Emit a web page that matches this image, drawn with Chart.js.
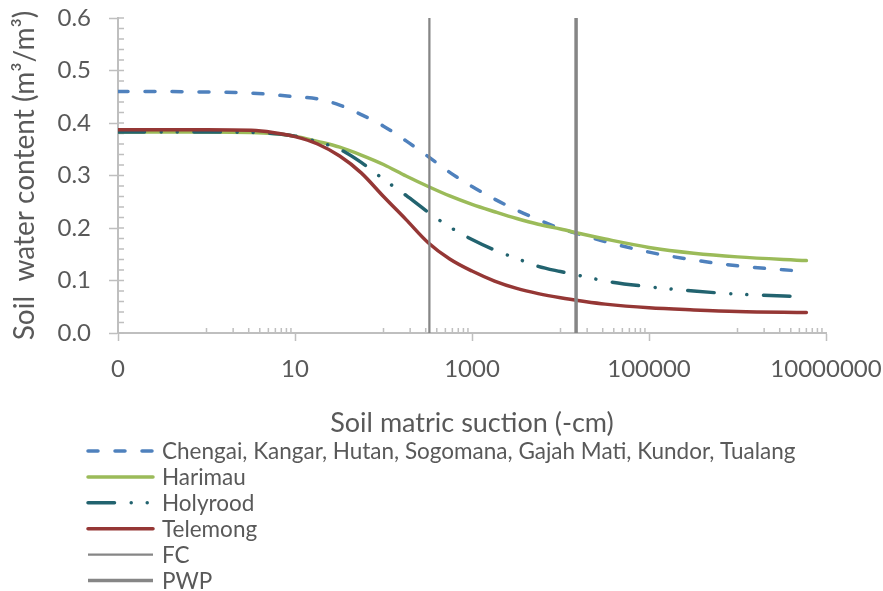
<!DOCTYPE html>
<html>
<head>
<meta charset="utf-8">
<script src="https://cdn.jsdelivr.net/npm/chart.js@4.4.1/dist/chart.umd.min.js"></script>
<style>
  html, body { margin: 0; padding: 0; background: #fff; }
</style>
</head>
<body>
<canvas id="swrc" width="883" height="591"></canvas>
<script>
// matric suction (-cm), shared by every curve
const suction = [0.1, 0.32, 1, 3.2, 5.6, 10, 18, 32, 56, 100, 180, 320, 560, 1000,
  1800, 3200, 5600, 10000, 18000, 32000, 100000, 320000, 1000000, 6000000];

// soil water content (m3/m3)
const chengai  = [0.460, 0.460, 0.459, 0.457, 0.454, 0.450, 0.446, 0.434, 0.416, 0.394, 0.366, 0.336,
  0.306, 0.279, 0.255, 0.234, 0.216, 0.199, 0.186, 0.174, 0.154, 0.139, 0.128, 0.117];
const harimau  = [0.383, 0.383, 0.383, 0.382, 0.380, 0.375, 0.365, 0.354, 0.339, 0.321, 0.299, 0.279,
  0.261, 0.245, 0.231, 0.218, 0.207, 0.198, 0.188, 0.179, 0.163, 0.152, 0.145, 0.138];
const holyrood = [0.383, 0.383, 0.383, 0.382, 0.380, 0.375, 0.364, 0.350, 0.325, 0.293, 0.262, 0.230,
  0.202, 0.178, 0.158, 0.142, 0.127, 0.117, 0.108, 0.099, 0.088, 0.080, 0.074, 0.069];
const telemong = [0.387, 0.387, 0.387, 0.386, 0.382, 0.374, 0.360, 0.337, 0.305, 0.260, 0.216, 0.172,
  0.141, 0.118, 0.099, 0.085, 0.075, 0.067, 0.0605, 0.055, 0.048, 0.044, 0.041, 0.039];

// field capacity and permanent wilting point (-cm)
const fcSuction = 330;
const pwpSuction = 15000;
const yRange = [0, 0.6];

const xTickValues = [0.1, 10, 1000, 100000, 10000000];
const xTickLabels = ['0', '10', '1000', '100000', '10000000'];

const labelColor = '#595959';
const axisColor = '#BFBFBF';
const fontFamily = 'Lato, "Open Sans", sans-serif';

const toPoints = ys => ys.map((y, i) => ({ x: suction[i], y: y }));
const vLine = x => yRange.map(y => ({ x: x, y: y }));

// no automatic room for overhanging labels, the layout padding decides
const noScalePadding = s => {
    s.paddingTop = 0;
    s.paddingBottom = 0;
    s.paddingLeft = 0;
    s.paddingRight = 0;
};

// small inside ticks like the spreadsheet axis
const minorTicks = {
    id: 'minorTicks',
    beforeDatasetsDraw(chart) {
        const { ctx, scales: { x, y } } = chart;
        ctx.save();
        ctx.strokeStyle = axisColor;
        ctx.lineWidth = 1.5;
        ctx.beginPath();
        [1, 100, 10000, 1000000].forEach(d => {
            for (let k = 1; k <= 9; k++) {
                const px = x.getPixelForValue(d * k);
                ctx.moveTo(px, y.bottom);
                ctx.lineTo(px, y.bottom - 5);
            }
        });
        for (let i = 0; i <= 30; i++) {
            const py = y.getPixelForValue(i * 0.02);
            ctx.moveTo(x.left, py);
            ctx.lineTo(x.left + 6, py);
        }
        ctx.stroke();
        ctx.restore();
    }
};

// legend with one entry per row, like the original
const stackedLegend = {
    id: 'stackedLegend',
    afterDraw(chart) {
        const ctx = chart.ctx;
        ctx.save();
        chart.data.datasets.forEach((ds, i) => {
            const yy = 451 + i * 25.9;
            ctx.strokeStyle = ds.borderColor;
            ctx.lineWidth = ds.borderWidth;
            ctx.lineCap = ds.borderCapStyle || 'butt';
            ctx.setLineDash(ds.borderDash || []);
            ctx.beginPath();
            ctx.moveTo(88, yy);
            ctx.lineTo(153, yy);
            ctx.stroke();
            ctx.setLineDash([]);
            ctx.fillStyle = labelColor;
            ctx.font = '22.5px ' + fontFamily;
            ctx.textBaseline = 'middle';
            ctx.fillText(ds.label, 162, yy + 1);
        });
        ctx.restore();
    }
};

const curve = {
    pointRadius: 0,
    fill: false,
    cubicInterpolationMode: 'monotone',
    borderJoinStyle: 'round'
};

new Chart(document.getElementById('swrc'), {
    type: 'line',
    data: {
        datasets: [
            Object.assign({}, curve, {
                label: 'Chengai, Kangar, Hutan, Sogomana, Gajah Mati, Kundor, Tualang',
                data: toPoints(chengai),
                borderColor: '#4F81BD',
                borderWidth: 3.5,
                borderDash: [10, 17],
                borderCapStyle: 'round',
                order: 6
            }),
            Object.assign({}, curve, {
                label: 'Harimau',
                data: toPoints(harimau),
                borderColor: '#9BBB59',
                borderWidth: 3.5,
                borderCapStyle: 'round',
                order: 5
            }),
            Object.assign({}, curve, {
                label: 'Holyrood',
                data: toPoints(holyrood),
                borderColor: '#22636F',
                borderWidth: 3.5,
                borderDash: [26.5, 16.7, 0.01, 16, 0.01, 16.7],
                borderCapStyle: 'round',
                order: 4
            }),
            Object.assign({}, curve, {
                label: 'Telemong',
                data: toPoints(telemong),
                borderColor: '#953735',
                borderWidth: 3.5,
                borderCapStyle: 'round',
                order: 3
            }),
            Object.assign({}, curve, {
                label: 'FC',
                data: vLine(fcSuction),
                borderColor: '#868686',
                borderWidth: 2.25,
                order: 2
            }),
            Object.assign({}, curve, {
                label: 'PWP',
                data: vLine(pwpSuction),
                borderColor: '#868686',
                borderWidth: 3.5,
                order: 1
            })
        ]
    },
    options: {
        responsive: false,
        animation: false,
        layout: { padding: { left: 0, top: 18, right: 57, bottom: 152 } },
        plugins: {
            legend: { display: false },
            tooltip: { enabled: false }
        },
        scales: {
            x: {
                type: 'logarithmic',
                min: 0.1,
                max: 10000000,
                afterBuildTicks: s => { s.ticks = xTickValues.map(v => ({ value: v })); },
                afterFit: s => { s.height = 106; noScalePadding(s); },
                ticks: {
                    autoSkip: false,
                    maxRotation: 0,
                    padding: 14,
                    color: labelColor,
                    font: { family: fontFamily, size: 24 },
                    callback: (v, i) => xTickLabels[i]
                },
                grid: { drawOnChartArea: false, tickLength: 8, tickColor: axisColor, tickWidth: 1.5 },
                border: { color: axisColor, width: 2 },
                title: {
                    display: true,
                    text: 'Soil matric suction (-cm)',
                    color: labelColor,
                    font: { family: fontFamily, size: 27 },
                    padding: { top: 0, bottom: 0 }
                }
            },
            y: {
                min: yRange[0],
                max: yRange[1],
                afterFit: s => { s.width = 118; noScalePadding(s); },
                ticks: {
                    stepSize: 0.1,
                    padding: 18,
                    color: labelColor,
                    font: { family: fontFamily, size: 24 },
                    callback: v => v.toFixed(1)
                },
                grid: { drawOnChartArea: false, tickLength: 9, tickColor: axisColor, tickWidth: 1.5 },
                border: { color: axisColor, width: 2 },
                title: {
                    display: true,
                    text: 'Soil  water content (m³/m³)',
                    color: labelColor,
                    font: { family: fontFamily, size: 28 },
                    padding: { top: 8, bottom: 0 }
                }
            }
        }
    },
    plugins: [minorTicks, stackedLegend]
});
</script>
</body>
</html>
